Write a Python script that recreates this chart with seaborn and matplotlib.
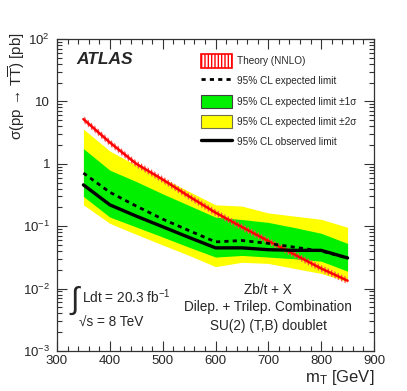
import numpy as np
import pandas as pd
import matplotlib
matplotlib.use("Agg")
import matplotlib.pyplot as plt
import matplotlib.ticker as mticker
from matplotlib.patches import Patch
from matplotlib.lines import Line2D
import seaborn as sns

# ---- data ----
mass = [350, 400, 450, 500, 550, 600, 650, 700, 750, 800, 850]
theory = [5.2, 2.2, 1.0, 0.56, 0.30, 0.165, 0.097, 0.058, 0.035, 0.021, 0.0134]
expected = [0.71, 0.35, 0.21, 0.13, 0.085, 0.056, 0.059, 0.053, 0.046, 0.040, 0.031]
observed = [0.46, 0.22, 0.145, 0.098, 0.066, 0.045, 0.045, 0.042, 0.041, 0.041, 0.031]
exp_p1 = [1.75, 0.79, 0.52, 0.33, 0.215, 0.14, 0.128, 0.115, 0.095, 0.077, 0.053]
exp_m1 = [0.30, 0.14, 0.097, 0.067, 0.046, 0.032, 0.034, 0.032, 0.030, 0.0275, 0.019]
exp_p2 = [3.6, 1.6, 0.95, 0.59, 0.36, 0.22, 0.21, 0.163, 0.145, 0.129, 0.096]
exp_m2 = [0.22, 0.111, 0.074, 0.05, 0.034, 0.0225, 0.0264, 0.0253, 0.021, 0.0175, 0.0129]
theory_lo_frac = 0.88
theory_hi_frac = 1.13

ytick_vals = [1e-3, 1e-2, 1e-1, 1, 10, 100]
ytick_labels = ["$10^{-3}$", "$10^{-2}$", "$10^{-1}$", "1", "10", "$10^{2}$"]
xtick_vals = [300, 400, 500, 600, 700, 800, 900]

legend_labels = ["Theory (NNLO)", "95% CL expected limit",
                 "95% CL expected limit \u00b11\u03c3",
                 "95% CL expected limit \u00b12\u03c3",
                 "95% CL observed limit"]

df = pd.DataFrame({"mass": mass, "theory": theory, "expected": expected,
                   "observed": observed, "p1": exp_p1, "m1": exp_m1,
                   "p2": exp_p2, "m2": exp_m2})

sns.set_style("ticks")
plt.rcParams["font.family"] = ["Liberation Sans", "DejaVu Sans"]
plt.rcParams["mathtext.fontset"] = "custom"
plt.rcParams["mathtext.rm"] = "Liberation Sans"
plt.rcParams["mathtext.it"] = "Liberation Sans:italic"
plt.rcParams["mathtext.bf"] = "Liberation Sans:bold"
plt.rcParams["hatch.linewidth"] = 1.0

W, H = 407, 391
fig = plt.figure(figsize=(W / 100, H / 100), dpi=100)
ax = fig.add_axes([57 / W, 1 - 351 / H, (374 - 57) / W, (351 - 39) / H])

ax.fill_between(df["mass"], df["m2"], df["p2"], color="#ffff00", lw=0, zorder=1)
ax.fill_between(df["mass"], df["m1"], df["p1"], color="#00f000", lw=0, zorder=2)
th = np.array(theory)
ax.fill_between(df["mass"], th * theory_lo_frac, th * theory_hi_frac,
                facecolor="none", edgecolor="#ff5050", hatch="|||||", lw=0, zorder=3)
sns.lineplot(data=df, x="mass", y="theory", ax=ax, color="red", lw=1.8, zorder=4)
sns.lineplot(data=df, x="mass", y="expected", ax=ax, color="black", lw=2.0,
             dashes=False, linestyle=(0, (1.5, 1.5)), zorder=5)
sns.lineplot(data=df, x="mass", y="observed", ax=ax, color="black", lw=2.4, zorder=6)

ax.set_yscale("log")
ax.set_xlim(300, 900)
ax.set_ylim(1e-3, 1e2)
ax.yaxis.set_major_locator(mticker.FixedLocator(ytick_vals))
ax.set_yticklabels(ytick_labels)
ax.yaxis.set_minor_locator(mticker.LogLocator(base=10, subs=np.arange(2, 10)))
ax.yaxis.set_minor_formatter(mticker.NullFormatter())
ax.set_xticks(xtick_vals)
ax.set_xticklabels([str(v) for v in xtick_vals])
ax.xaxis.set_minor_locator(mticker.MultipleLocator(20))
ax.tick_params(which="both", direction="in", top=True, right=True, labelsize=9.5,
               color="#333333", width=0.8)
ax.tick_params(which="major", length=7)
ax.tick_params(which="minor", length=3.5)
ax.tick_params(axis="y", pad=5)
ax.tick_params(axis="x", pad=3)
for s in ax.spines.values():
    s.set_linewidth(0.9)
    s.set_color("#333333")

ax.set_ylabel("\u03c3(pp \u2192 T$\\overline{\\mathrm{T}}$) [pb]", fontsize=10.8, loc="top")
ax.yaxis.set_label_coords(-0.095, 1.02)
ax.set_xlabel("m$_{\\mathrm{T}}$ [GeV]", fontsize=12, loc="right")
ax.xaxis.set_label_coords(1.0, -0.055)

# legend
handles = [
    Patch(facecolor="white", edgecolor="red", hatch="|||||", lw=1.2),
    Line2D([], [], color="black", lw=2.0, linestyle=(0, (1.5, 1.5))),
    Patch(facecolor="#00f000", edgecolor="#404040", lw=0.8),
    Patch(facecolor="#ffff00", edgecolor="#707050", lw=0.8),
    Line2D([], [], color="black", lw=2.4),
]
fs = 7.2
ax.legend(handles, legend_labels, loc="upper left",
          bbox_to_anchor=(201 / W, 1 - 54 / H), bbox_transform=fig.transFigure,
          frameon=False, fontsize=fs, handlelength=3.1, handleheight=1.7,
          labelspacing=0.68, handletextpad=0.5, borderpad=0, borderaxespad=0)

def ftext(x, y, s, **kw):
    fig.text(x / W, 1 - y / H, s, **kw)

ftext(76, 60, "ATLAS", fontsize=12.5, fontweight="bold", fontstyle="italic",
      va="center", ha="left")
ftext(70, 301, "\u222b", fontsize=22, va="center", ha="left")
ftext(82, 297, "Ldt = 20.3 fb$^{-1}$", fontsize=9.8, va="center", ha="left")
ftext(79, 323, "\u221as = 8 TeV", fontsize=9.8, va="center", ha="left")
ftext(268, 290, "Zb/t + X", fontsize=9.8, va="center", ha="center")
ftext(268, 307, "Dilep. + Trilep. Combination", fontsize=9.8, va="center", ha="center")
ftext(268, 326, "SU(2) (T,B) doublet", fontsize=9.8, va="center", ha="center")

fig.savefig("out.png", dpi=100)
